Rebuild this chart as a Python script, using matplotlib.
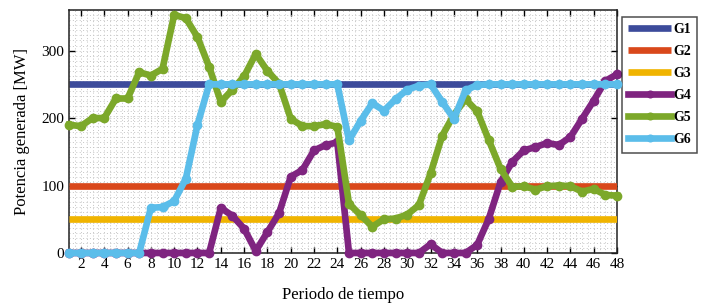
import numpy as np
import matplotlib
matplotlib.use("Agg")
import matplotlib.pyplot as plt
from matplotlib.ticker import MultipleLocator

plt.rcParams['font.family'] = ['Liberation Serif', 'DejaVu Serif']

periods = list(range(1, 49))

g1 = [250] * 48
g2 = [100] * 48
g3 = [50] * 48
g4 = [0, 0, 0, 0, 0, 0, 0, 0, 0, 0, 0, 0, 0, 67, 55, 36, 3, 31, 59, 113,
      123, 152, 160, 164, 0, 0, 0, 0, 0, 0, 0, 13, 0, 0, 0, 12, 51, 105,
      135, 152, 157, 163, 160, 172, 199, 226, 255, 265]
g5 = [190, 188, 200, 200, 229, 229, 268, 263, 273, 353, 348, 320, 276, 224,
      242, 262, 295, 270, 251, 199, 188, 188, 191, 187, 73, 56, 39, 50, 51,
      57, 71, 118, 174, 205, 228, 210, 167, 125, 98, 99, 94, 99, 100, 99,
      91, 95, 86, 85]
g6 = [0, 0, 0, 0, 0, 0, 0, 67, 68, 77, 110, 190, 250, 250, 250, 250, 250,
      250, 250, 250, 250, 250, 250, 250, 167, 196, 222, 211, 228, 242, 248,
      250, 224, 199, 241, 249, 250, 250, 250, 250, 250, 250, 250, 250, 250,
      250, 250, 250]

names = ['G1', 'G2', 'G3', 'G4', 'G5', 'G6']
colors = ['#3c4b9b', '#d9481b', '#f0b400', '#7f2480', '#7ca82a', '#5bbdea']

fig = plt.figure(figsize=(7.02, 3.07), dpi=100)
ax = fig.add_axes([0.0987, 0.176, 0.7803, 0.791])

series = [g1, g2, g3, g4, g5, g6]
for k, (nm, vals, c) in enumerate(zip(names, series, colors)):
    if k < 3:
        ax.plot(periods, vals, color=c, lw=4.8, label=nm, solid_capstyle='butt', zorder=2 + k)
    else:
        ax.plot(periods, vals, color=c, lw=4.8, marker='o', ms=6, label=nm,
                clip_on=False, zorder=2 + k)

ax.set_xlim(1, 48)
ax.set_ylim(0, 360)
ax.xaxis.set_major_locator(MultipleLocator(2))
ax.xaxis.set_minor_locator(MultipleLocator(0.5))
ax.yaxis.set_major_locator(MultipleLocator(100))
ax.yaxis.set_minor_locator(MultipleLocator(7.5))
ax.grid(which='both', color='#c4c4c4', ls=(0, (1, 2.5)), lw=0.7, zorder=0)
ax.set_axisbelow(True)
ax.tick_params(which='major', direction='in', top=True, right=True, length=4,
               labelsize=11, width=1)
ax.tick_params(which='minor', length=0)
for s in ax.spines.values():
    s.set_linewidth(1.1)
    s.set_color('#222222')

ax.set_xlabel('Periodo de tiempo', fontsize=12, labelpad=12)
ax.set_ylabel('Potencia generada [MW]', fontsize=12, labelpad=8)

leg = ax.legend(loc='upper left', bbox_to_anchor=(1.009, 0.972), borderaxespad=0,
                frameon=True, fancybox=False, edgecolor='#222222', fontsize=10,
                handlelength=3.1, labelspacing=0.65, borderpad=0.45,
                handletextpad=0.15, markerscale=0.8)
leg.get_frame().set_linewidth(1.1)
for t in leg.get_texts():
    t.set_fontweight('bold')

fig.savefig('out.png', dpi=100)
